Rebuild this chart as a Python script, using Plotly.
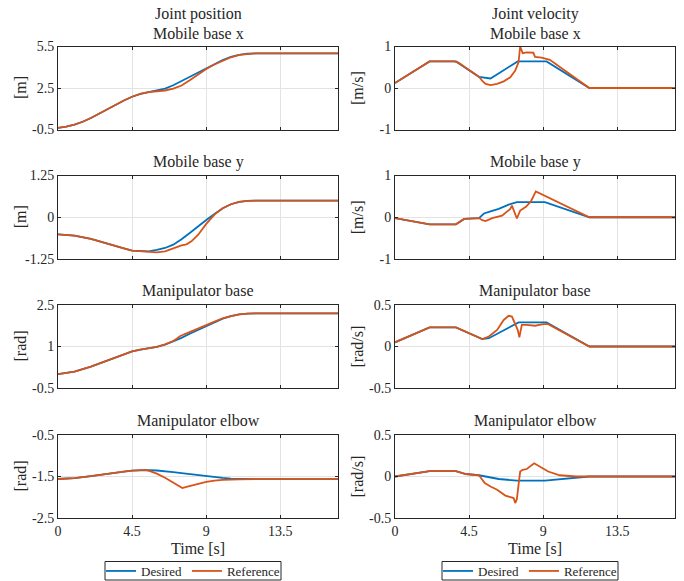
import plotly.graph_objects as go

# ---------------- data ----------------
# Position: mobile base x [m]
t_px_des = [0, 0.5, 1, 1.5, 2, 2.5, 3, 3.5, 4, 4.5, 5, 5.5, 6, 6.5, 7, 7.5, 8, 8.5, 9, 9.5, 10, 10.5, 11, 11.5, 12, 17]
px_des = [-0.38, -0.3, -0.15, 0.06, 0.33, 0.66, 0.98, 1.3, 1.6, 1.87, 2.08, 2.2, 2.3, 2.45, 2.7, 3.0, 3.3, 3.62, 3.95, 4.25, 4.52, 4.75, 4.9, 4.98, 5.0, 5.0]
t_px_ref = [0, 0.5, 1, 1.5, 2, 2.5, 3, 3.5, 4, 4.5, 5, 5.5, 6, 6.5, 7, 7.5, 8, 8.5, 9, 9.5, 10, 10.5, 11, 11.5, 12, 17]
px_ref = [-0.38, -0.3, -0.15, 0.06, 0.33, 0.66, 0.98, 1.3, 1.6, 1.87, 2.08, 2.2, 2.26, 2.32, 2.45, 2.68, 3.06, 3.48, 3.88, 4.2, 4.48, 4.72, 4.89, 4.97, 5.0, 5.0]

# Position: mobile base y [m]
t_py_des = [0, 1, 2, 3, 4, 4.5, 5, 5.5, 6, 6.5, 7, 7.5, 8, 8.5, 9, 9.5, 10, 10.5, 11, 11.5, 12, 17]
py_des = [-0.51, -0.55, -0.65, -0.78, -0.93, -1.0, -1.02, -1.02, -0.98, -0.92, -0.82, -0.66, -0.47, -0.27, -0.08, 0.1, 0.27, 0.39, 0.46, 0.49, 0.5, 0.5]
t_py_ref = [0, 1, 2, 3, 4, 4.5, 5, 5.5, 6, 6.5, 7, 7.3, 7.5, 7.8, 8.1, 8.5, 9, 9.5, 10, 10.5, 11, 11.5, 12, 17]
py_ref = [-0.51, -0.55, -0.65, -0.78, -0.93, -1.0, -1.02, -1.04, -1.05, -1.02, -0.93, -0.86, -0.84, -0.81, -0.72, -0.53, -0.2, 0.08, 0.27, 0.39, 0.46, 0.49, 0.5, 0.5]

# Position: manipulator base [rad]
t_pb_des = [0, 1, 2, 3, 4, 4.5, 5, 5.5, 6, 6.5, 7, 7.5, 8, 8.5, 9, 9.5, 10, 10.5, 11, 11.5, 12, 17]
pb_des = [0.0, 0.09, 0.27, 0.5, 0.73, 0.82, 0.89, 0.93, 0.99, 1.07, 1.18, 1.31, 1.46, 1.6, 1.75, 1.89, 2.01, 2.1, 2.16, 2.19, 2.2, 2.2]
t_pb_ref = [0, 1, 2, 3, 4, 4.5, 5, 5.5, 6, 6.5, 7, 7.2, 7.4, 7.7, 8, 8.5, 9, 9.5, 10, 10.5, 11, 11.5, 12, 17]
pb_ref = [0.0, 0.09, 0.27, 0.5, 0.73, 0.82, 0.89, 0.93, 0.99, 1.08, 1.2, 1.28, 1.37, 1.45, 1.52, 1.64, 1.77, 1.9, 2.02, 2.1, 2.16, 2.19, 2.2, 2.2]

# Position: manipulator elbow [rad]
t_pe_des = [0, 1, 2, 3, 4, 4.5, 5, 5.5, 6, 6.5, 7, 7.5, 8, 8.5, 9, 9.5, 10, 10.5, 11, 11.5, 12, 17]
pe_des = [-1.56, -1.54, -1.49, -1.43, -1.38, -1.36, -1.345, -1.345, -1.355, -1.37, -1.395, -1.42, -1.445, -1.47, -1.495, -1.515, -1.535, -1.55, -1.56, -1.565, -1.565, -1.565]
t_pe_ref = [0, 1, 2, 3, 4, 4.5, 5, 5.3, 5.5, 6, 6.5, 7, 7.3, 7.55, 7.8, 8.3, 9, 9.5, 10, 11, 12, 17]
pe_ref = [-1.56, -1.54, -1.49, -1.43, -1.38, -1.36, -1.345, -1.34, -1.36, -1.43, -1.53, -1.64, -1.72, -1.78, -1.75, -1.7, -1.63, -1.6, -1.58, -1.57, -1.565, -1.565]

# Velocity: mobile base x [m/s]
t_vx_des = [0, 2.1, 3.7, 5.1, 5.8, 7.45, 9.2, 11.8, 17]
vx_des = [0.12, 0.64, 0.64, 0.27, 0.23, 0.64, 0.64, 0.0, 0.0]
t_vx_ref = [0, 2.1, 3.6, 3.85, 5.1, 5.3, 5.5, 5.8, 6.2, 6.6, 7.0, 7.3, 7.5, 7.6, 7.75, 8.0, 8.4, 8.5, 8.9, 9.2, 9.4, 11.8, 17]
vx_ref = [0.12, 0.64, 0.64, 0.61, 0.27, 0.17, 0.1, 0.07, 0.1, 0.16, 0.26, 0.42, 0.62, 1.0, 0.84, 0.86, 0.85, 0.75, 0.73, 0.7, 0.68, 0.0, 0.0]

# Velocity: mobile base y [m/s]
t_vy_des = [0, 2.1, 3.7, 4.2, 5.1, 5.4, 5.8, 6.3, 6.9, 7.4, 9.1, 11.8, 17]
vy_des = [-0.02, -0.17, -0.17, -0.04, -0.02, 0.09, 0.14, 0.2, 0.3, 0.36, 0.36, 0.0, 0.0]
t_vy_ref = [0, 2.1, 3.7, 4.2, 5.1, 5.3, 5.5, 5.9, 6.5, 7.0, 7.1, 7.4, 7.6, 7.95, 8.25, 8.55, 11.8, 17]
vy_ref = [-0.02, -0.17, -0.17, -0.04, -0.02, -0.07, -0.09, -0.02, 0.04, 0.2, 0.28, -0.03, 0.16, 0.25, 0.38, 0.62, 0.0, 0.0]

# Velocity: manipulator base [rad/s]
t_vb_des = [0, 2.1, 3.7, 5.3, 5.7, 7.5, 9.2, 11.8, 17]
vb_des = [0.05, 0.23, 0.23, 0.09, 0.1, 0.29, 0.29, 0.0, 0.0]
t_vb_ref = [0, 2.1, 3.7, 5.1, 5.3, 5.7, 6.2, 6.6, 6.9, 7.1, 7.3, 7.45, 7.55, 7.7, 8.0, 8.5, 9.0, 9.3, 11.8, 17]
vb_ref = [0.05, 0.23, 0.23, 0.1, 0.09, 0.12, 0.2, 0.32, 0.37, 0.36, 0.26, 0.2, 0.11, 0.26, 0.26, 0.25, 0.27, 0.27, 0.0, 0.0]

# Velocity: manipulator elbow [rad/s]
t_ve_des = [0, 2.1, 3.7, 4.3, 5.1, 6.3, 7.4, 9.1, 11.8, 17]
ve_des = [0.0, 0.065, 0.065, 0.03, 0.015, -0.03, -0.05, -0.05, 0.0, 0.0]
t_ve_ref = [0, 2.1, 3.7, 4.3, 5.1, 5.25, 5.45, 5.8, 6.2, 6.7, 7.0, 7.2, 7.3, 7.4, 7.5, 7.6, 7.75, 8.0, 8.45, 8.8, 9.3, 10.0, 11.0, 17]
ve_ref = [0.0, 0.065, 0.065, 0.03, 0.015, -0.03, -0.08, -0.12, -0.16, -0.23, -0.25, -0.26, -0.32, -0.27, -0.1, 0.06, 0.08, 0.09, 0.16, 0.12, 0.06, 0.015, 0.0, 0.0]

col_titles = ["Joint position", "Joint velocity"]
row_titles = ["Mobile base x", "Mobile base y", "Manipulator base", "Manipulator elbow"]
pos_units = ["[m]", "[m]", "[rad]", "[rad]"]
vel_units = ["[m/s]", "[m/s]", "[rad/s]", "[rad/s]"]
pos_ranges = [[-0.5, 5.5], [-1.25, 1.25], [-0.5, 2.5], [-2.5, -0.5]]
vel_ranges = [[-1, 1], [-1, 1], [-0.5, 0.5], [-0.5, 0.5]]
pos_ticks = [[-0.5, 2.5, 5.5], [-1.25, 0, 1.25], [-0.5, 1, 2.5], [-2.5, -1.5, -0.5]]
pos_ticktext = [["-0.5", "2.5", "5.5"], ["-1.25", "0", "1.25"], ["-0.5", "1", "2.5"], ["-2.5", "-1.5", "-0.5"]]
vel_ticks = [[-1, 0, 1], [-1, 0, 1], [-0.5, 0, 0.5], [-0.5, 0, 0.5]]
vel_ticktext = [["-1", "0", "1"], ["-1", "0", "1"], ["-0.5", "0", "0.5"], ["-0.5", "0", "0.5"]]
x_ticks = [0, 4.5, 9, 13.5]
x_ticktext = ["0", "4.5", "9", "13.5"]
series_names = ["Desired", "Reference"]

pos_series = [(t_px_des, px_des, t_px_ref, px_ref), (t_py_des, py_des, t_py_ref, py_ref),
              (t_pb_des, pb_des, t_pb_ref, pb_ref), (t_pe_des, pe_des, t_pe_ref, pe_ref)]
vel_series = [(t_vx_des, vx_des, t_vx_ref, vx_ref), (t_vy_des, vy_des, t_vy_ref, vy_ref),
              (t_vb_des, vb_des, t_vb_ref, vb_ref), (t_ve_des, ve_des, t_ve_ref, ve_ref)]

# ---------------- layout geometry ----------------
W, H = 684, 581
FONT = "Liberation Serif"
C_DES = "#0072BD"
C_REF = "#D95319"
AX = "#262626"
GRID = "#E3E3E3"

col_px = [(58, 338), (395, 675)]
row_px = [(46.5, 129.5), (175.5, 259), (305, 388), (435, 518)]
legend_cx = [193, 530]

def px2x(p):
    return p / W

def px2y(p):
    return 1 - p / H

fig = go.Figure()
layout = {}
annotations = []
shapes = []

idx = 0
for c in range(2):
    for r in range(4):
        idx += 1
        xa = "x" if idx == 1 else f"x{idx}"
        ya = "y" if idx == 1 else f"y{idx}"
        td, yd, tr, yr = (pos_series if c == 0 else vel_series)[r]
        leg = "legend" if c == 0 else "legend2"
        show = (r == 0)
        fig.add_trace(go.Scatter(x=td, y=yd, mode="lines", name=series_names[0],
                                 line=dict(color=C_DES, width=1.8), xaxis=xa, yaxis=ya,
                                 legend=leg, showlegend=show, legendgroup=f"d{c}"))
        fig.add_trace(go.Scatter(x=tr, y=yr, mode="lines", name=series_names[1],
                                 line=dict(color=C_REF, width=1.8), xaxis=xa, yaxis=ya,
                                 legend=leg, showlegend=show, legendgroup=f"r{c}"))
        xk = "xaxis" if idx == 1 else f"xaxis{idx}"
        yk = "yaxis" if idx == 1 else f"yaxis{idx}"
        x0, x1 = col_px[c]
        y0, y1 = row_px[r]
        layout[xk] = dict(domain=[px2x(x0), px2x(x1)], range=[0, 17], anchor=ya,
                          tickvals=x_ticks, ticktext=x_ticktext, showticklabels=(r == 3),
                          ticks="inside", ticklen=3, tickcolor=AX, showline=True, linecolor=AX,
                          linewidth=1, mirror="ticks", showgrid=True, gridcolor=GRID, gridwidth=1,
                          zeroline=False, automargin=False,
                          tickfont=dict(family=FONT, size=14, color=AX))
        rng = (pos_ranges if c == 0 else vel_ranges)[r]
        tv = (pos_ticks if c == 0 else vel_ticks)[r]
        tt = (pos_ticktext if c == 0 else vel_ticktext)[r]
        layout[yk] = dict(domain=[px2y(y1), px2y(y0)], range=rng, anchor=xa,
                          tickvals=tv, ticktext=tt, ticks="inside", ticklen=3, tickcolor=AX,
                          showline=True, linecolor=AX, linewidth=1, mirror="ticks",
                          showgrid=True, gridcolor=GRID, gridwidth=1, zeroline=False,
                          automargin=False,
                          tickfont=dict(family=FONT, size=14, color=AX))
        cx = (x0 + x1) / 2
        # subplot title
        annotations.append(dict(text=row_titles[r], x=px2x(cx), y=px2y(y0 - 3), xref="paper",
                                yref="paper", xanchor="center", yanchor="bottom", showarrow=False,
                                font=dict(family=FONT, size=16, color=AX)))
        # y-axis unit label
        ux = 20 if c == 0 else 357
        annotations.append(dict(text=(pos_units if c == 0 else vel_units)[r], x=px2x(ux),
                                y=px2y((y0 + y1) / 2), xref="paper", yref="paper",
                                xanchor="center", yanchor="middle", textangle=-90,
                                showarrow=False, font=dict(family=FONT, size=16, color=AX)))
        if r == 0:
            annotations.append(dict(text=col_titles[c], x=px2x(cx), y=px2y(y0 - 21),
                                    xref="paper", yref="paper", xanchor="center",
                                    yanchor="bottom", showarrow=False,
                                    font=dict(family=FONT, size=16, color=AX)))
        if r == 3:
            annotations.append(dict(text="Time [s]", x=px2x(cx), y=px2y(548), xref="paper",
                                    yref="paper", xanchor="center", yanchor="middle",
                                    showarrow=False, font=dict(family=FONT, size=16, color=AX)))

# legend frames (MATLAB-style compact box)
for lc in legend_cx:
    shapes.append(dict(type="rect", xref="paper", yref="paper",
                       x0=px2x(lc - 88), x1=px2x(lc + 88), y0=px2y(580), y1=px2y(561.5),
                       line=dict(color=AX, width=1), fillcolor="rgba(0,0,0,0)", layer="above"))

legend_common = dict(orientation="h", xanchor="center", yanchor="middle", y=px2y(571),
                     borderwidth=0, bgcolor="rgba(0,0,0,0)", itemwidth=30,
                     font=dict(family=FONT, size=13, color=AX), tracegroupgap=0,
                     itemclick=False)

fig.update_layout(
    width=W, height=H, margin=dict(l=0, r=0, t=0, b=0, autoexpand=False),
    paper_bgcolor="white", plot_bgcolor="white",
    annotations=annotations, shapes=shapes,
    legend=dict(x=px2x(legend_cx[0]), **legend_common),
    legend2=dict(x=px2x(legend_cx[1]), **legend_common),
    **layout,
)

fig.write_html("out.html", config={"displayModeBar": False},
               post_script="document.body.style.margin='0';")
